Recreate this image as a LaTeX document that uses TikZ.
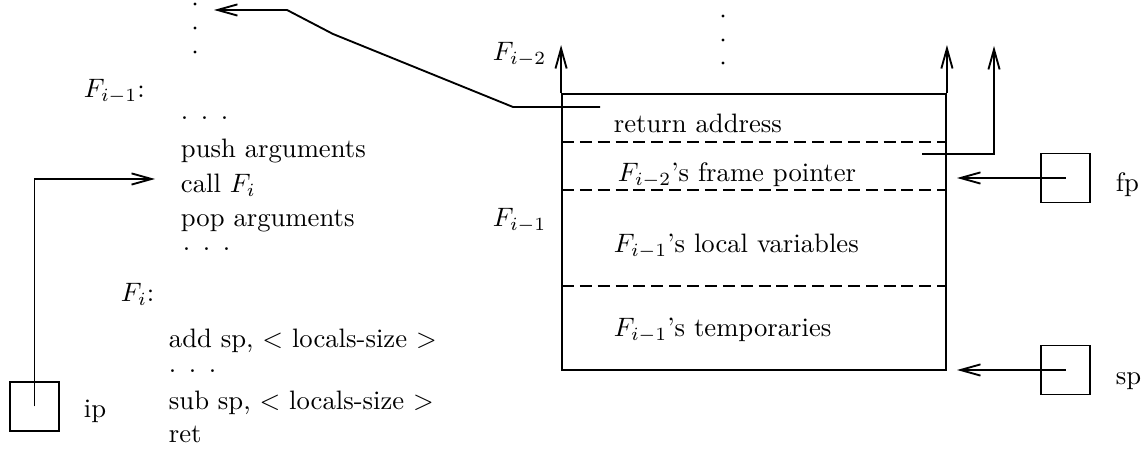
\documentclass[tikz,border=0pt]{standalone}
\usetikzlibrary{arrows.meta}
\newcommand\myhdots{.\hskip4.7pt.\hskip4.7pt.}
\begin{document}
\begin{tikzpicture}[x=0.375pt,y=-0.375pt,
  line width=0.7pt,
  >={Straight Barb[length=7.5pt,width=4.2pt]},
  txt/.style={anchor=base west, inner sep=0pt},
  reg/.style={draw, minimum width=18.4pt, minimum height=18.4pt, inner sep=0pt},
  sep/.style={dash pattern=on 4.5pt off 2.2pt},
  framebox/.style={draw, minimum width=144pt, minimum height=103.5pt, inner sep=0pt}]
\useasboundingbox (0,0) rectangle (1146,457);

% ---------- left: code ----------
\foreach \y in {4,28,52} \fill (195,\y) circle[radius=0.6pt];
\node[txt] (fim1) at (83,98) {$F_{i-1}$:};
\node[txt] (d1) at (180,119.5) {\myhdots};
\node[txt] (push) at (180,158) {push arguments};
\node[txt] (call) at (180,193) {call $F_i$};
\node[txt] (pop) at (180,227) {pop arguments};
\node[txt] (d2) at (182,251) {\myhdots};
\node[txt] (fi) at (120,302) {$F_i$:};
\node[txt] (add) at (168,348) {add sp, $<$ locals-size $>$};
\node[txt] (d3) at (168,373) {\myhdots};
\node[txt] (sub) at (168,410) {sub sp, $<$ locals-size $>$};
\node[txt] (ret) at (168,443) {ret};

\node[reg] (ipbox) at (34.5,406.5) {};
\node[txt] (iplab) at (83,418) {ip};
\coordinate (callin) at (155,179);
\draw[->] (ipbox.center) |- (callin);

% ---------- right: stack frame ----------
\node[framebox] (frame) at (754,232) {};
\draw[->] (frame.north west) -- ++(0,-48);
\draw[->] (frame.north east) -- ++(0,-48);
\foreach \y in {142,190,286} \draw[sep] (562,\y) -- (946,\y);

\node[txt] (ra) at (613,133) {return address};
\node[txt] (ofp) at (617,182) {$F_{i-2}$'s frame pointer};
\node[txt] (loc) at (613,253) {$F_{i-1}$'s local variables};
\node[txt] (tmp) at (613,337) {$F_{i-1}$'s temporaries};
\node[txt] (lf2) at (492,61) {$F_{i-2}$};
\node[txt] (lf1) at (492,227) {$F_{i-1}$};
\foreach \y in {16,40,63} \fill (723,\y) circle[radius=0.6pt];

% return address link
\coordinate (rastart) at (600,107);
\coordinate (rtarget) at (214,10);
\draw[->] (rastart) -- (513,107) -- (333,34) -- (287,10) -- (rtarget);

% saved frame pointer link
\coordinate (ofpstart) at (922,154);
\coordinate (ofptop) at (994,46);
\draw[->] (ofpstart) -| (ofptop);

% registers
\node[reg] (fpbox) at (1065.5,178) {};
\node[txt] (fplab) at (1115,192) {fp};
\coordinate (fpin) at (957,178);
\draw[->] (fpbox.center) -- (fpin);

\node[reg] (spbox) at (1065.5,370) {};
\node[txt] (splab) at (1115,385) {sp};
\coordinate (spin) at (957,370);
\draw[->] (spbox.center) -- (spin);
\end{tikzpicture}
\end{document}
